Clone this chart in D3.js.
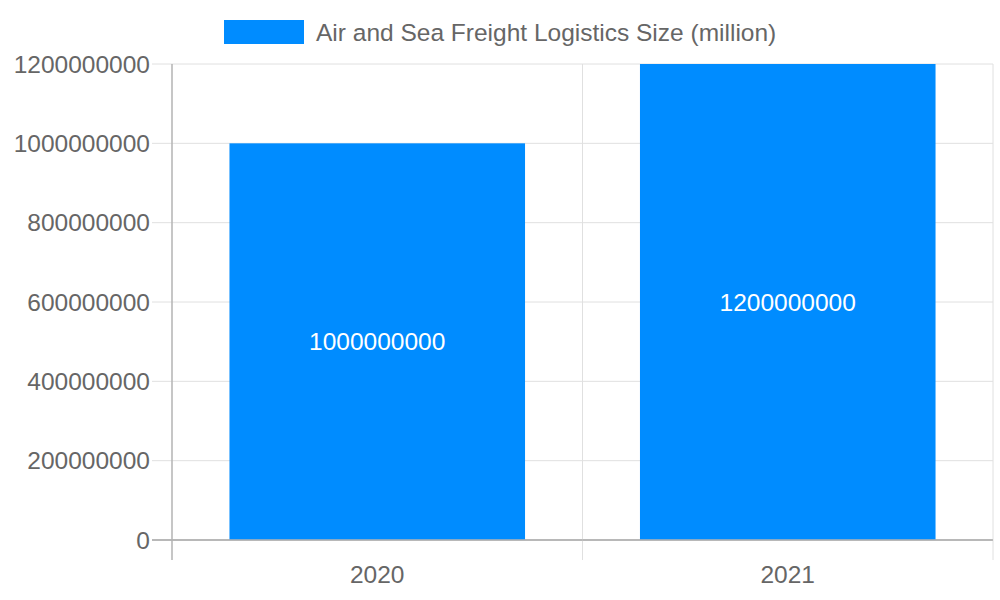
<!DOCTYPE html>
<html>
<head>
  <meta charset="utf-8" />
  <script src="https://d3js.org/d3.v7.min.js"></script>
  <style>
    body { margin: 0; background: #fff; }
    text { font-family: "Liberation Sans", Arial, sans-serif; }
  </style>
</head>
<body>
  <script>
    var categories = ["2020", "2021"];
    var values = [1000000000, 1200000000];
    var yTicks = [0, 200000000, 400000000, 600000000, 800000000, 1000000000, 1200000000];
    var seriesName = "Air and Sea Freight Logistics Size (million)";

    var W = 1000, H = 600;
    var margin = { top: 64, right: 7, bottom: 60, left: 172 };
    var width = W - margin.left - margin.right;
    var height = H - margin.top - margin.bottom;
    var barColor = "#008cff";
    var fontSize = "24.5px";

    var svg = d3.select("body").append("svg")
      .attr("width", W)
      .attr("height", H);

    var g = svg.append("g")
      .attr("transform", `translate(${margin.left} ${margin.top})`);

    var x = d3.scaleBand().domain(categories).range([0, width]).paddingInner(0).paddingOuter(0);
    var y = d3.scaleLinear().domain([0, 1200000000]).range([height, 0]);

    // horizontal grid lines, with tick stubs
    g.selectAll(".hgrid")
      .data(yTicks)
      .enter()
      .append("line")
      .attr("x1", -20)
      .attr("x2", width)
      .attr("y1", function(d) { return y(d); })
      .attr("y2", function(d) { return y(d); })
      .attr("stroke", function(d) { return d === 0 ? "#b3b3b3" : "#e0e0e0"; })
      .attr("stroke-width", function(d) { return d === 0 ? 1.5 : 1; });

    // vertical grid lines at band edges
    var edges = categories.map(function(c) { return x(c); }).concat([width]);
    g.selectAll(".vgrid")
      .data(edges)
      .enter()
      .append("line")
      .attr("x1", function(d) { return d; })
      .attr("x2", function(d) { return d; })
      .attr("y1", 0)
      .attr("y2", height + 20)
      .attr("stroke", function(d, i) { return i === 0 ? "#b3b3b3" : "#e0e0e0"; })
      .attr("stroke-width", function(d, i) { return i === 0 ? 1.5 : 1; });

    // bars
    var barW = x.bandwidth() * 0.72;
    g.selectAll(".bar")
      .data(values)
      .enter()
      .append("rect")
      .attr("x", function(d, i) { return x(categories[i]) + (x.bandwidth() - barW) / 2; })
      .attr("y", function(d) { return y(d); })
      .attr("width", barW)
      .attr("height", function(d) { return height - y(d); })
      .attr("fill", barColor);

    // redraw base axis line over bars
    g.append("line")
      .attr("x1", -20).attr("x2", width)
      .attr("y1", height).attr("y2", height)
      .attr("stroke", "#b3b3b3").attr("stroke-width", 1.5);

    // bar value labels
    g.selectAll(".val")
      .data(values)
      .enter()
      .append("text")
      .attr("x", function(d, i) { return x(categories[i]) + x.bandwidth() / 2; })
      .attr("y", function(d) { return (y(d) + height) / 2; })
      .attr("dy", "0.35em")
      .attr("text-anchor", "middle")
      .attr("fill", "#fff")
      .style("font-size", fontSize)
      .text(function(d) { return d; });

    // y tick labels
    g.selectAll(".ylab")
      .data(yTicks)
      .enter()
      .append("text")
      .attr("x", -22)
      .attr("y", function(d) { return y(d); })
      .attr("dy", "0.35em")
      .attr("text-anchor", "end")
      .attr("fill", "#666")
      .style("font-size", fontSize)
      .text(function(d) { return d; });

    // x tick labels
    g.selectAll(".xlab")
      .data(categories)
      .enter()
      .append("text")
      .attr("x", function(d) { return x(d) + x.bandwidth() / 2; })
      .attr("y", height + 34)
      .attr("dy", "0.35em")
      .attr("text-anchor", "middle")
      .attr("fill", "#666")
      .style("font-size", fontSize)
      .text(function(d) { return d; });

    // legend
    var legend = svg.append("g");
    legend.append("rect")
      .attr("x", 224).attr("y", 20)
      .attr("width", 80).attr("height", 24)
      .attr("fill", barColor);
    legend.append("text")
      .attr("x", 316).attr("y", 32)
      .attr("dy", "0.35em")
      .attr("fill", "#666")
      .style("font-size", fontSize)
      .text(seriesName);
  </script>
</body>
</html>
